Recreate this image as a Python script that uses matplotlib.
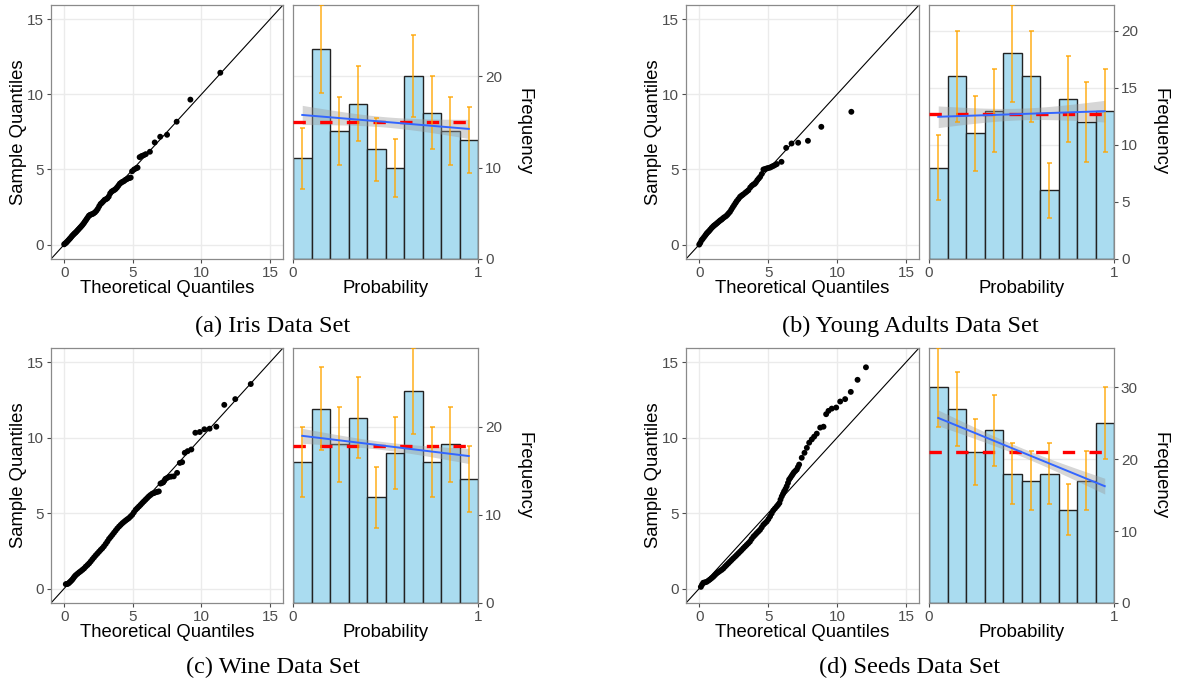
import numpy as np
import matplotlib
matplotlib.use("Agg")
import matplotlib.pyplot as plt

# ---------------- data ----------------
bin_edges = np.linspace(0, 1, 11)

iris_counts = [11, 23, 14, 17, 12, 10, 20, 16, 14, 13]
ya_counts = [8, 16, 11, 13, 18, 16, 6, 14, 12, 13]
wine_counts = [16, 22, 18, 21, 12, 17, 24, 16, 18, 14]
seeds_counts = [30, 27, 21, 24, 18, 17, 18, 13, 17, 25]

iris_yticks = [0, 10, 20]
ya_yticks = [0, 5, 10, 15, 20]
wine_yticks = [0, 10, 20]
seeds_yticks = [0, 10, 20, 30]

# half-width of the grey confidence band at the ends of the fit
iris_band = 1.05
ya_band = 0.95
wine_band = 0.85
seeds_band = 1.1

qq_ticks = [0, 5, 10, 15]

iris_qx = [0.00, 0.08, 0.15, 0.22, 0.30, 0.38, 0.45, 0.53, 0.60, 0.68, 0.75, 0.83, 0.90, 0.98, 1.05,
           1.13, 1.20, 1.28, 1.35, 1.43, 1.50, 1.58, 1.65, 1.73, 1.80, 1.88, 1.95, 2.05, 2.15, 2.25,
           2.35, 2.45, 2.55, 2.65, 2.75, 2.85, 2.95, 3.05, 3.15, 3.25, 3.35, 3.45, 3.55, 3.65, 3.75,
           3.85, 3.95, 4.05, 4.15, 4.25, 4.35, 4.45, 4.55, 4.65, 4.75, 4.85, 4.95, 5.10, 5.25, 5.35,
           5.50, 5.65, 5.80, 5.95, 6.25, 6.60, 7.00, 7.50, 8.20, 9.20, 11.38]
iris_qy = [0.02, 0.08, 0.13, 0.20, 0.28, 0.36, 0.43, 0.52, 0.60, 0.67, 0.74, 0.80, 0.87, 0.95, 1.02,
           1.10, 1.17, 1.25, 1.33, 1.42, 1.52, 1.62, 1.72, 1.82, 1.92, 1.97, 2.00, 2.03, 2.08, 2.15,
           2.25, 2.38, 2.55, 2.70, 2.78, 2.88, 2.98, 3.02, 3.08, 3.20, 3.40, 3.52, 3.58, 3.63, 3.70,
           3.80, 3.92, 4.05, 4.12, 4.18, 4.22, 4.30, 4.35, 4.40, 4.43, 4.46, 4.88, 5.00, 5.08, 5.12,
           5.82, 5.90, 5.95, 6.02, 6.18, 6.80, 7.18, 7.31, 8.18, 9.65, 11.44]

ya_qx = [0.00, 0.08, 0.17, 0.25, 0.35, 0.45, 0.53, 0.62, 0.71, 0.80, 0.90, 1.00, 1.08, 1.17, 1.26,
         1.35, 1.45, 1.54, 1.63, 1.72, 1.82, 1.94, 2.04, 2.13, 2.23, 2.33, 2.43, 2.53, 2.63, 2.72,
         2.84, 2.96, 3.07, 3.18, 3.33, 3.45, 3.57, 3.70, 3.82, 3.93, 4.03, 4.12, 4.22, 4.32, 4.42,
         4.54, 4.66, 4.78, 4.90, 5.02, 5.15, 5.27, 5.39, 5.51, 5.63, 5.97, 6.31, 6.70, 7.18, 7.89,
         8.86, 11.04]
ya_qy = [0.00, 0.12, 0.29, 0.38, 0.50, 0.62, 0.73, 0.82, 0.90, 1.00, 1.11, 1.20, 1.27, 1.33, 1.40,
         1.47, 1.55, 1.62, 1.67, 1.75, 1.82, 1.89, 1.98, 2.08, 2.18, 2.33, 2.48, 2.62, 2.76, 2.89,
         3.03, 3.18, 3.26, 3.33, 3.44, 3.53, 3.62, 3.80, 3.92, 4.00, 4.05, 4.15, 4.29, 4.40, 4.51,
         4.70, 5.00, 5.03, 5.07, 5.10, 5.13, 5.19, 5.24, 5.30, 5.36, 5.51, 6.44, 6.73, 6.78, 6.91,
         7.84, 8.84]

wine_qx = [0.12, 0.20, 0.28, 0.36, 0.44, 0.52, 0.60, 0.68, 0.76, 0.85, 0.97, 1.09, 1.21, 1.33, 1.45,
           1.57, 1.70, 1.82, 1.94, 2.06, 2.18, 2.30, 2.42, 2.54, 2.66, 2.78, 2.90, 3.03, 3.15, 3.27,
           3.39, 3.51, 3.63, 3.75, 3.87, 4.00, 4.12, 4.24, 4.36, 4.48, 4.60, 4.72, 4.84, 4.96, 5.08,
           5.21, 5.33, 5.45, 5.57, 5.69, 5.81, 5.93, 6.05, 6.17, 6.29, 6.42, 6.54, 6.66, 6.78, 6.90,
           7.02, 7.12, 7.22, 7.30, 7.38, 7.50, 7.63, 7.80, 7.99, 8.23, 8.43, 8.60, 8.79, 9.00, 9.27,
           9.56, 9.88, 10.22, 10.60, 11.09, 11.67, 12.47, 13.60]
wine_qy = [0.29, 0.30, 0.32, 0.38, 0.45, 0.52, 0.60, 0.70, 0.80, 0.89, 0.98, 1.07, 1.15, 1.24, 1.33,
           1.45, 1.56, 1.67, 1.80, 1.94, 2.07, 2.20, 2.32, 2.44, 2.56, 2.67, 2.80, 2.96, 3.12, 3.29,
           3.42, 3.56, 3.70, 3.84, 3.98, 4.11, 4.22, 4.33, 4.42, 4.51, 4.59, 4.67, 4.78, 4.89, 5.05,
           5.22, 5.33, 5.44, 5.55, 5.67, 5.78, 5.89, 6.00, 6.11, 6.20, 6.29, 6.33, 6.38, 6.41, 6.44,
           6.96, 7.00, 7.04, 7.15, 7.27, 7.33, 7.40, 7.42, 7.44, 7.67, 8.33, 8.38, 9.00, 9.11, 9.22,
           10.33, 10.38, 10.56, 10.60, 10.73, 12.18, 12.56, 13.56]

seeds_qx = [0.12, 0.20, 0.29, 0.41, 0.53, 0.66, 0.78, 0.90, 1.02, 1.14, 1.26, 1.38, 1.50, 1.63, 1.75,
            1.87, 1.99, 2.11, 2.23, 2.35, 2.47, 2.60, 2.72, 2.84, 2.96, 3.08, 3.20, 3.32, 3.44, 3.56,
            3.68, 3.80, 3.93, 4.05, 4.17, 4.29, 4.41, 4.53, 4.65, 4.77, 4.90, 5.02, 5.14, 5.26, 5.38,
            5.50, 5.62, 5.72, 5.82, 5.90, 5.99, 6.08, 6.16, 6.26, 6.35, 6.44, 6.52, 6.62, 6.72, 6.80,
            6.88, 6.98, 7.08, 7.16, 7.25, 7.44, 7.64, 7.81, 7.98, 8.17, 8.34, 8.53, 8.78, 9.02, 9.21,
            9.38, 9.62, 9.94, 10.23, 10.59, 11.00, 11.49, 12.10]
seeds_qy = [0.11, 0.25, 0.38, 0.41, 0.44, 0.52, 0.60, 0.69, 0.78, 0.89, 1.00, 1.08, 1.16, 1.24, 1.33,
            1.45, 1.56, 1.67, 1.78, 1.89, 2.00, 2.11, 2.22, 2.33, 2.44, 2.55, 2.67, 2.78, 2.89, 3.00,
            3.11, 3.28, 3.44, 3.55, 3.67, 3.78, 3.89, 4.05, 4.22, 4.33, 4.44, 4.60, 4.78, 4.98, 5.18,
            5.31, 5.44, 5.55, 5.67, 5.90, 6.11, 6.28, 6.44, 6.60, 6.78, 7.00, 7.22, 7.35, 7.49, 7.60,
            7.71, 7.80, 7.89, 8.05, 8.22, 8.67, 9.00, 9.33, 9.67, 9.89, 10.07, 10.27, 10.67, 10.73, 11.56,
            11.78, 11.93, 12.00, 12.40, 12.56, 13.04, 13.84, 14.67]

captions = ["(a) Iris Data Set", "(b) Young Adults Data Set",
            "(c) Wine Data Set", "(d) Seeds Data Set"]

# ---------------- styling ----------------
W, H = 1182, 689
plt.rcParams['font.family'] = ['Liberation Sans', 'DejaVu Sans']
TICK_C = '#4d4d4d'
BORDER_C = '#8a8a8a'
GRID_C = '#ebebeb'
BAR_C = '#aadcf0'
TICK_FS = 11
LABEL_FS = 13.3

fig = plt.figure(figsize=(W / 100, H / 100), dpi=100)


def px_axes(x0, x1, y0, y1):
    return fig.add_axes([x0 / W, 1 - y1 / H, (x1 - x0) / W, (y1 - y0) / H])


def style_axes(ax):
    for s in ax.spines.values():
        s.set_color(BORDER_C)
        s.set_linewidth(0.9)
    ax.tick_params(colors=TICK_C, labelcolor=TICK_C, labelsize=TICK_FS, length=3, width=0.8, pad=2)


def qq_panel(ax, qx, qy):
    style_axes(ax)
    ax.set_xlim(-0.96, 15.95)
    ax.set_ylim(-0.96, 15.95)
    ax.set_xticks(qq_ticks)
    ax.set_yticks(qq_ticks)
    ax.grid(True, color=GRID_C, lw=1.0)
    ax.set_axisbelow(True)
    ax.plot([-2, 17], [-2, 17], color='black', lw=0.8, zorder=2)
    ax.scatter(qx, qy, s=18, color='black', edgecolors='none', zorder=3)
    ax.set_xlabel("Theoretical Quantiles", fontsize=LABEL_FS, labelpad=0)
    ax.set_ylabel("Sample Quantiles", fontsize=LABEL_FS, labelpad=0)


def hist_panel(ax, counts, yticks, band_hw):
    style_axes(ax)
    counts = np.asarray(counts, dtype=float)
    err = np.sqrt(counts)
    centers = (bin_edges[:-1] + bin_edges[1:]) / 2
    widths = np.diff(bin_edges)
    ax.bar(centers, counts, width=widths, color=BAR_C, edgecolor='#222222', linewidth=1.0, zorder=2)
    # linear fit over bin centres
    slope, icpt = np.polyfit(centers, counts, 1)
    xs = np.linspace(centers[0], centers[-1], 80)
    fit = icpt + slope * xs
    n = len(centers)
    sxx = np.sum((centers - centers.mean()) ** 2)
    shape = np.sqrt(1 / n + (xs - centers.mean()) ** 2 / sxx)
    shape = shape / np.sqrt(1 / n + (centers[0] - centers.mean()) ** 2 / sxx)
    ax.fill_between(xs, fit - band_hw * shape, fit + band_hw * shape, color='#999999', alpha=0.4,
                    linewidth=0, zorder=3)
    ax.plot([0, 1], [counts.mean()] * 2, color='#ff0000', lw=2.4, dashes=(3.7, 4.3), zorder=4)
    ax.errorbar(centers, counts, yerr=err, fmt='none', ecolor='#ffa500', alpha=0.7, elinewidth=1.4,
                capsize=1.8, capthick=1.4, zorder=5)
    ax.plot(xs, fit, color='#3366ff', lw=1.4, zorder=6)
    ax.set_xlim(0, 1)
    ax.set_ylim(0, (counts + err).max())
    ax.set_xticks([0, 1])
    ax.set_xticklabels(["0", "1"])
    ax.set_yticks(yticks)
    ax.yaxis.tick_right()
    ax.yaxis.set_label_position('right')
    ax.grid(True, axis='y', color=GRID_C, lw=1.0)
    ax.set_axisbelow(True)
    ax.set_xlabel("Probability", fontsize=LABEL_FS, labelpad=0)
    ax.set_ylabel("Frequency", fontsize=LABEL_FS, rotation=270, labelpad=22)


rows = [(5, 259), (348, 603)]
cols = [((51, 283), (293, 478)), ((686, 919), (929, 1114))]
datasets = [
    (iris_qx, iris_qy, iris_counts, iris_yticks, iris_band),
    (ya_qx, ya_qy, ya_counts, ya_yticks, ya_band),
    (wine_qx, wine_qy, wine_counts, wine_yticks, wine_band),
    (seeds_qx, seeds_qy, seeds_counts, seeds_yticks, seeds_band),
]
cap_pos = [(273, 326), (910, 326), (273, 667), (910, 667)]

for i, (qx, qy, cnt, yt, bw) in enumerate(datasets):
    r, c = divmod(i, 2)
    y0, y1 = rows[r]
    (qa, qb), (ha, hb) = cols[c]
    ax_q = px_axes(qa, qb, y0, y1)
    qq_panel(ax_q, qx, qy)
    ax_h = px_axes(ha, hb, y0, y1)
    hist_panel(ax_h, cnt, yt, bw)
    cx, cy = cap_pos[i]
    fig.text(cx / W, 1 - cy / H, captions[i], ha='center', va='center', fontsize=17.5,
             family=['Liberation Serif', 'DejaVu Serif'])

fig.savefig("out.png", dpi=100)
